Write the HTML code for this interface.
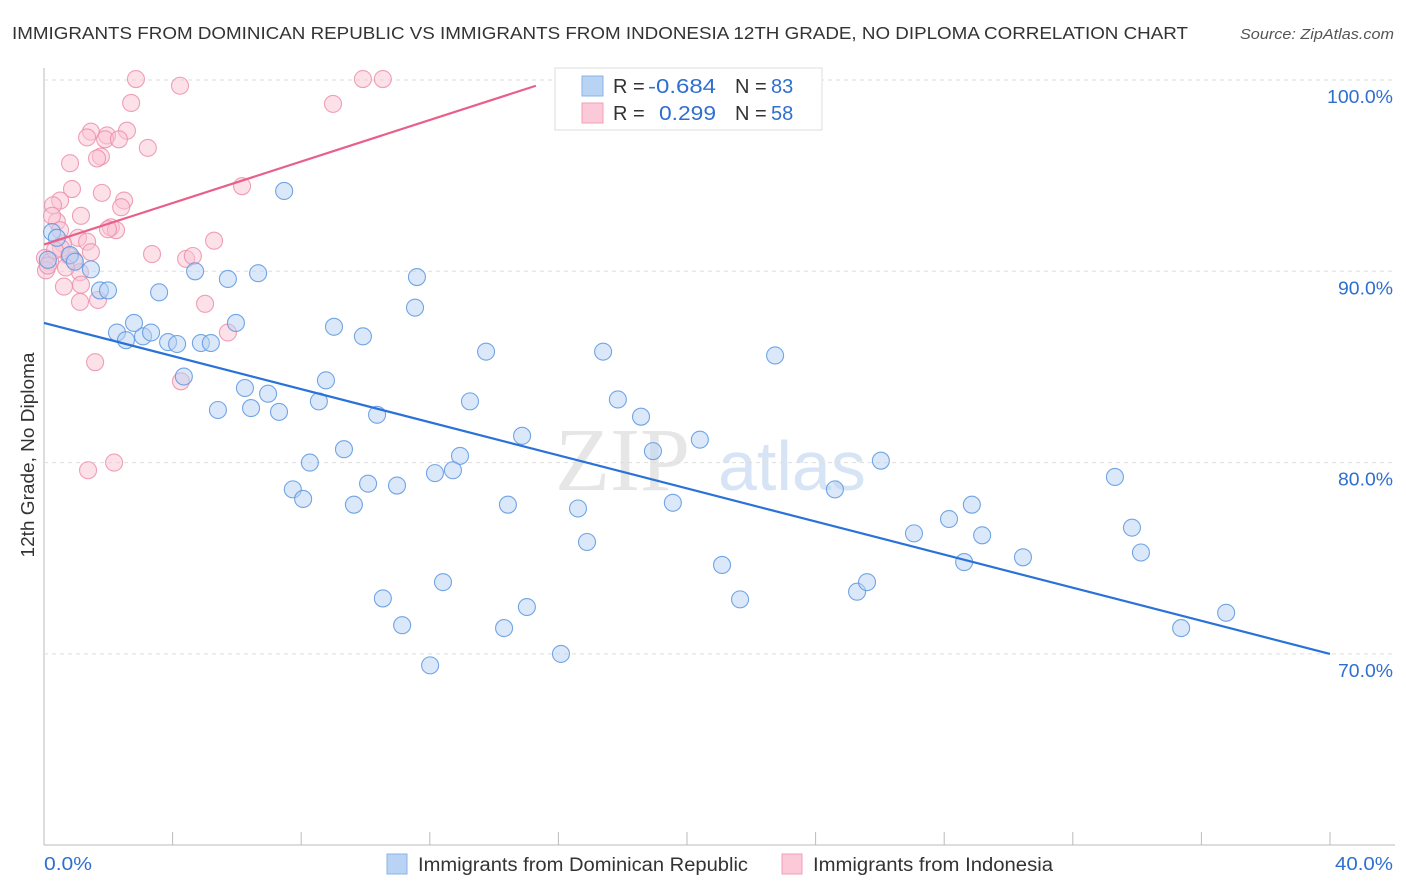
<!DOCTYPE html>
<html><head><meta charset="utf-8"><style>
body{margin:0;background:#fff;font-family:"Liberation Sans",sans-serif;}
svg{display:block}
</style></head><body>
<svg width="1406" height="892" id="chart">
<text x="12" y="39" font-size="17.5" fill="#333" textLength="1176" lengthAdjust="spacingAndGlyphs">IMMIGRANTS FROM DOMINICAN REPUBLIC VS IMMIGRANTS FROM INDONESIA 12TH GRADE, NO DIPLOMA CORRELATION CHART</text>
<text x="1394" y="39" font-size="15" fill="#555" font-style="italic" text-anchor="end" textLength="154" lengthAdjust="spacingAndGlyphs">Source: ZipAtlas.com</text>
<text transform="translate(34,455) rotate(-90)" font-size="18" fill="#333" text-anchor="middle" textLength="205" lengthAdjust="spacingAndGlyphs">12th Grade, No Diploma</text>
<text x="555" y="490" font-size="90" fill="#e6e6e6" font-family="Liberation Serif,serif">ZIP</text>
<text x="718" y="490" font-size="70" fill="#d6e4f5">atlas</text>
<g id="grid"></g><g id="ticks"></g>
<g id="pinkPts"></g><g id="bluePts"></g><g id="lines"></g>
<g>
<rect x="555" y="68" width="267" height="62" fill="#fff" stroke="#ddd"/>
<rect x="582" y="76" width="21" height="20" fill="#b9d3f5" stroke="#8ab3e8"/>
<rect x="582" y="103" width="21" height="20" fill="#fbc9d8" stroke="#f0a0b8"/>
<text x="613" y="93" font-size="20" fill="#333">R = <tspan x="648" fill="#2f6fd0" textLength="68" lengthAdjust="spacingAndGlyphs">-0.684</tspan><tspan x="735">N = </tspan><tspan x="771" fill="#2f6fd0">83</tspan></text>
<text x="613" y="120" font-size="20" fill="#333">R = <tspan x="659" fill="#2f6fd0" textLength="57" lengthAdjust="spacingAndGlyphs">0.299</tspan><tspan x="735">N = </tspan><tspan x="771" fill="#2f6fd0">58</tspan></text>
</g>
<text x="44" y="870" font-size="18" fill="#2f6fd0" textLength="48" lengthAdjust="spacingAndGlyphs">0.0%</text>
<text x="1393" y="870" font-size="18" fill="#2f6fd0" text-anchor="end" textLength="58" lengthAdjust="spacingAndGlyphs">40.0%</text>
<g>
<rect x="387" y="854" width="20" height="20" fill="#b9d3f5" stroke="#8ab3e8"/>
<text x="418" y="871" font-size="19" fill="#333" textLength="330" lengthAdjust="spacingAndGlyphs">Immigrants from Dominican Republic</text>
<rect x="782" y="854" width="20" height="20" fill="#fbc9d8" stroke="#f0a0b8"/>
<text x="813" y="871" font-size="19" fill="#333" textLength="240" lengthAdjust="spacingAndGlyphs">Immigrants from Indonesia</text>
</g>
</svg>
<script>
const blueX=[7.47,4.70,5.72,6.66,1.46,1.74,1.99,3.58,11.60,11.54,5.97,9.02,9.92,2.27,2.55,3.08,3.33,2.80,3.86,4.14,4.88,5.19,4.35,6.25,6.97,8.77,13.75,17.39,22.74,5.41,6.44,7.31,8.55,10.36,13.25,17.85,18.57,20.40,14.87,18.94,9.33,8.27,12.94,12.16,12.72,7.74,8.06,10.08,10.98,9.64,14.43,16.61,19.56,24.60,26.03,33.31,16.89,27.06,28.15,28.86,29.18,33.84,34.12,28.62,30.45,21.09,12.41,10.54,11.14,15.02,14.31,21.65,25.29,25.60,12.01,16.08,35.37,36.77,0.25,0.40,0.81,0.96,0.12];
const blueY=[94.2,90.0,89.6,89.9,90.1,89.0,89.0,88.9,89.7,88.1,87.3,87.1,86.6,86.8,86.4,86.6,86.8,87.3,86.3,86.2,86.25,86.25,84.5,83.9,83.6,84.3,85.8,85.8,85.6,82.75,82.85,82.65,83.2,82.5,83.2,83.3,82.4,81.2,81.4,80.6,80.7,80.0,80.35,79.45,79.6,78.6,78.1,78.9,78.8,77.8,77.8,77.6,77.9,78.6,80.1,79.25,75.85,76.3,77.05,77.8,76.2,76.6,75.3,74.8,75.05,74.65,73.75,72.9,71.5,72.45,71.35,72.85,73.25,73.75,69.4,70.0,71.35,72.15,92.05,91.75,90.85,90.5,90.6];
const pinkX=[2.86,4.23,9.92,10.54,8.99,2.71,1.46,1.34,2.58,1.96,1.90,2.33,3.23,0.81,1.77,1.65,6.16,0.87,1.80,2.49,0.50,0.28,2.40,1.15,0.40,0.25,1.06,2.08,2.24,1.99,5.29,0.59,1.34,0.53,1.46,3.36,4.42,4.63,0.93,0.03,0.19,0.78,1.12,1.15,0.62,1.68,1.12,5.01,5.72,1.59,4.26,1.37,2.18,0.06,0.12,0.34,0.68,0.50];
const pinkY=[100.05,99.7,100.05,100.05,98.75,98.8,97.3,97.0,97.35,97.1,96.9,96.9,96.45,95.65,96.0,95.9,94.45,94.3,94.1,93.7,93.7,93.45,93.35,92.9,92.6,92.9,91.75,92.3,92.15,92.2,91.6,91.45,91.55,91.2,91.0,90.9,90.65,90.8,90.6,90.7,90.5,90.8,89.95,89.3,89.2,88.5,88.4,88.3,86.8,85.25,84.25,79.6,80.0,90.05,90.3,91.1,90.2,92.15];
const blueFit=[0,87.3,40,70.0];
const pinkFit=[0,91.4,15.3,99.7];
const yTicks=[100,90,80,70];
const yTickLabels=["100.0%","90.0%","80.0%","70.0%"];
const xTicks=[4,8,12,16,20,24,28,32,36,40];

const X=v=>44+v*(1286/40);
const Y=v=>80+(100-v)*19.13;
const NS="http://www.w3.org/2000/svg";
function mk(tag,attrs,parent){const e=document.createElementNS(NS,tag);for(const k in attrs)e.setAttribute(k,attrs[k]);parent.appendChild(e);return e;}
const grid=document.getElementById('grid');
mk('line',{x1:44,y1:68,x2:44,y2:845,stroke:'#bbb'},grid);
mk('line',{x1:44,y1:845,x2:1395,y2:845,stroke:'#bbb'},grid);
yTicks.forEach((t,i)=>{
 const l=mk('line',{x1:44,y1:Y(t),x2:1395,y2:Y(t),stroke:'#ddd','stroke-dasharray':'4,4'},grid);
 
 
 const tx=mk('text',{x:1393,y:Y(t)+23,'font-size':18,fill:'#2f6fd0','text-anchor':'end',textLength:yTickLabels[i].length*11,lengthAdjust:'spacingAndGlyphs'},grid);
 tx.textContent=yTickLabels[i];
 
 
});
const tk=document.getElementById('ticks');
xTicks.forEach(t=>{
 const l=mk('line',{x1:X(t),y1:832,x2:X(t),y2:845,stroke:'#bbb'},tk);
 
 
});
function pts(xs,ys,g,fill,stroke,name){
 xs.forEach((x,i)=>{
  const c=mk('circle',{cx:X(x),cy:Y(ys[i]),r:8.5,fill:fill,'fill-opacity':0.5,stroke:stroke,'stroke-width':1.1,'stroke-opacity':0.85},g);
  
  
 });
}
pts(pinkX,pinkY,document.getElementById('pinkPts'),'#f9c3d3','#ec8fac','indonesia-point');
pts(blueX,blueY,document.getElementById('bluePts'),'#b7d1f3','#5a96e0','dominican-point');
const lg=document.getElementById('lines');
const bl=mk('line',{x1:X(blueFit[0]),y1:Y(blueFit[1]),x2:X(blueFit[2]),y2:Y(blueFit[3]),stroke:'#2a72d8','stroke-width':2.2},lg);


const pl=mk('line',{x1:X(pinkFit[0]),y1:Y(pinkFit[1]),x2:X(pinkFit[2]),y2:Y(pinkFit[3]),stroke:'#e8608a','stroke-width':2.2},lg);


</script>
</body></html>
